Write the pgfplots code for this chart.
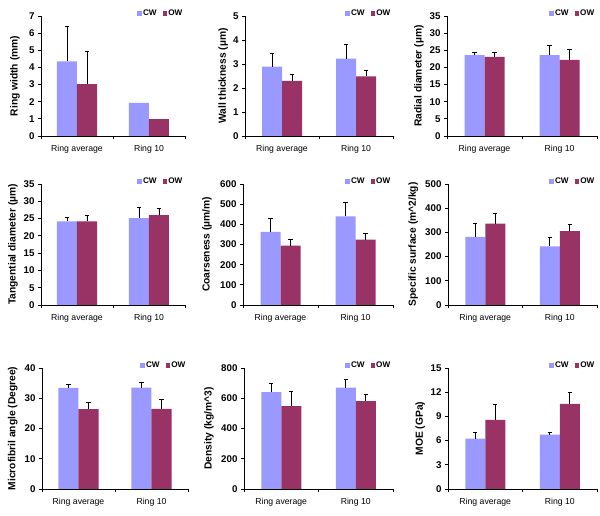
\documentclass[border=0pt]{standalone}
\usepackage{pgfplots}
\pgfplotsset{compat=1.18}
\usepackage{fontspec}
\setmainfont{Liberation Sans}
\definecolor{cw}{RGB}{153,153,255}
\definecolor{ow}{RGB}{153,51,102}

\pgfplotsset{
 panel/.style={
  scale only axis, anchor=south west,
  axis lines*=left, axis line style={-, line width=0.8bp},
  ybar=0pt, bar width=20bp,
  xmin=-0.5, xmax=1.5, ymin=0,
  xtick={-0.5,0.5,1.5}, xticklabels={},
  extra x ticks={0,1}, extra x tick labels={Ring average, Ring 10},
  extra x tick style={major tick length=0pt, xticklabel style={font=\fontsize{8.7}{10}\selectfont, yshift=-6bp}},
  tick align=outside, major tick length=3bp,
  tick style={black, line width=0.8bp},
  /pgf/number format/assume math mode=true,
  yticklabel style={font=\bfseries\fontsize{9.8}{11}\selectfont},
  ylabel style={font=\bfseries\fontsize{10.3}{12}\selectfont},
  legend style={draw=none, fill=none, at={(rel axis cs:0.99,1.02)}, anchor=east, legend columns=2,
    font=\bfseries\fontsize{8.2}{9}\selectfont, inner sep=0pt,
    nodes={inner sep=1bp},
    /tikz/every even column/.append style={column sep=5bp}},
 },
 cwbar/.style={fill=cw, draw=none, bar shift=-10bp,
   legend image code/.code={\fill[cw] (0bp,-2.3bp) rectangle (4.6bp,2.3bp);}},
 owbar/.style={fill=ow, draw=none, bar shift=10bp,
   legend image code/.code={\fill[ow] (0bp,-2.3bp) rectangle (4.6bp,2.3bp);}},
 witherr/.style={error bars/y dir=plus, error bars/y explicit,
   error bars/error bar style={draw=black, line width=0.8bp},
   error bars/error mark options={rotate=90, draw=black, mark size=2.2bp, line width=0.8bp}},
}

\begin{document}
\begin{tikzpicture}
\path[use as bounding box] (0,0) rectangle (600bp,516bp);

% ---------- Row 1 ----------
\begin{axis}[panel, at={(41bp,380bp)}, width=144bp, height=120bp, ymax=7, ytick distance=1,
  ylabel={Ring width (mm)}, ylabel style={at={(axis description cs:-0.18,0.5)}, anchor=center}]
\addplot[cwbar] coordinates {(0,4.36) (1,1.93)};
\addplot[owbar] coordinates {(0,3.02) (1,0.98)};
\addplot[bar shift=-10bp, draw=none, fill=none, forget plot, witherr] coordinates {(0,4.36) +- (0,2.05)};
\addplot[bar shift=10bp, draw=none, fill=none, forget plot, witherr] coordinates {(0,3.02) +- (0,1.90)};
\legend{CW,OW}
\end{axis}

\begin{axis}[panel, at={(245bp,380bp)}, width=148bp, height=120bp, ymax=5, ytick distance=1,
  ylabel={Wall thickness (µm)}, ylabel style={at={(axis description cs:-0.148,0.5)}, anchor=center}]
\addplot[cwbar, witherr] coordinates {(0,2.89) +- (0,0.55) (1,3.22) +- (0,0.61)};
\addplot[owbar, witherr] coordinates {(0,2.30) +- (0,0.26) (1,2.48) +- (0,0.27)};
\legend{CW,OW}
\end{axis}

\begin{axis}[panel, at={(447bp,380bp)}, width=150bp, height=120bp, ymax=35, ytick distance=5,
  ylabel={Radial diameter (µm)}, ylabel style={at={(axis description cs:-0.187,0.5)}, anchor=center}]
\addplot[cwbar, witherr] coordinates {(0,23.6) +- (0,0.9) (1,23.6) +- (0,2.9)};
\addplot[owbar, witherr] coordinates {(0,23.1) +- (0,1.4) (1,22.2) +- (0,3.1)};
\legend{CW,OW}
\end{axis}

% ---------- Row 2 ----------
\begin{axis}[panel, at={(41bp,211bp)}, width=144bp, height=121bp, ymax=35, ytick distance=5,
  ylabel={Tangential diameter (µm)}, ylabel style={at={(axis description cs:-0.194,0.5)}, anchor=center}]
\addplot[cwbar, witherr] coordinates {(0,24.2) +- (0,1.2) (1,25.1) +- (0,3.2)};
\addplot[owbar, witherr] coordinates {(0,24.2) +- (0,1.6) (1,26.0) +- (0,1.8)};
\legend{CW,OW}
\end{axis}

\begin{axis}[panel, at={(243bp,211bp)}, width=150bp, height=121bp, ymax=600, ytick distance=100,
  ylabel={Coarseness (µm/m)}, ylabel style={at={(axis description cs:-0.24,0.5)}, anchor=center}]
\addplot[cwbar, witherr] coordinates {(0,362) +- (0,67) (1,440) +- (0,67)};
\addplot[owbar, witherr] coordinates {(0,294) +- (0,33) (1,324) +- (0,33)};
\legend{CW,OW}
\end{axis}

\begin{axis}[panel, at={(448bp,211bp)}, width=149bp, height=121bp, ymax=500, ytick distance=100,
  ylabel={Specific surface (m\textasciicircum 2/kg)}, ylabel style={at={(axis description cs:-0.233,0.5)}, anchor=center}]
\addplot[cwbar, witherr] coordinates {(0,282) +- (0,56) (1,242) +- (0,38)};
\addplot[owbar, witherr] coordinates {(0,336) +- (0,41) (1,305) +- (0,28)};
\legend{CW,OW}
\end{axis}

% ---------- Row 3 ----------
\begin{axis}[panel, at={(42bp,27bp)}, width=146bp, height=121bp, ymax=40, ytick distance=10,
  ylabel={Microfibril angle (Degree)}, ylabel style={at={(axis description cs:-0.2,0.5)}, anchor=center}]
\addplot[cwbar, witherr] coordinates {(0,33.4) +- (0,1.2) (1,33.5) +- (0,1.7)};
\addplot[owbar, witherr] coordinates {(0,26.4) +- (0,2.2) (1,26.5) +- (0,3.2)};
\legend{CW,OW}
\end{axis}

\begin{axis}[panel, at={(244bp,27bp)}, width=149bp, height=121bp, ymax=800, ytick distance=200,
  ylabel={Density (kg/m\textasciicircum 3)}, ylabel style={at={(axis description cs:-0.235,0.5)}, anchor=center}]
\addplot[cwbar, witherr] coordinates {(0,641) +- (0,57) (1,670) +- (0,55)};
\addplot[owbar, witherr] coordinates {(0,548) +- (0,97) (1,581) +- (0,42)};
\legend{CW,OW}
\end{axis}

\begin{axis}[panel, at={(448bp,27bp)}, width=149bp, height=121bp, ymax=15, ytick distance=3,
  ylabel={MOE (GPa)}, ylabel style={at={(axis description cs:-0.187,0.5)}, anchor=center}]
\addplot[cwbar, witherr] coordinates {(0,6.23) +- (0,0.8) (1,6.74) +- (0,0.29)};
\addplot[owbar, witherr] coordinates {(0,8.58) +- (0,1.92) (1,10.54) +- (0,1.38)};
\legend{CW,OW}
\end{axis}
\end{tikzpicture}
\end{document}
